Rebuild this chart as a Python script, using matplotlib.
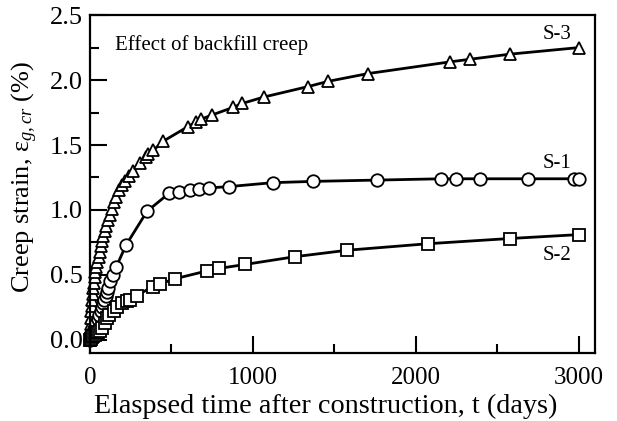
import numpy as np
import matplotlib
matplotlib.use("Agg")
from matplotlib import pyplot as plt
from matplotlib.ticker import MultipleLocator, FormatStrFormatter

plt.rcParams['font.family'] = ['Liberation Serif', 'DejaVu Serif']
plt.rcParams['mathtext.fontset'] = 'custom'
plt.rcParams['mathtext.rm'] = 'Liberation Serif'
plt.rcParams['mathtext.it'] = 'Liberation Serif:italic'

# S-3 (triangles)
t_s3 = [0, 1, 2, 3, 5, 7, 9, 12, 15, 19, 23, 28, 33, 39, 45, 52, 59, 66, 74, 82,
        91, 100, 110, 120, 132, 145, 160, 176, 196, 214, 241, 265, 307, 343, 358,
        389, 450, 599, 653, 684, 746, 879, 934, 1069, 1339, 1461, 1706, 2209, 2331,
        2581, 3000]
e_s3 = [0.0, 0.04, 0.08, 0.12, 0.17, 0.22, 0.26, 0.31, 0.35, 0.40, 0.44, 0.48, 0.52,
        0.56, 0.60, 0.64, 0.68, 0.72, 0.76, 0.80, 0.84, 0.88, 0.92, 0.96, 1.01, 1.06,
        1.10, 1.15, 1.19, 1.22, 1.26, 1.30, 1.36, 1.41, 1.43, 1.46, 1.53, 1.64, 1.68,
        1.70, 1.73, 1.79, 1.82, 1.87, 1.95, 1.99, 2.05, 2.14, 2.16, 2.20, 2.25]

# S-1 (circles)
t_s1 = [0, 5, 10, 16, 22, 30, 38, 46, 55, 64, 72, 80, 88, 96, 104, 112, 123, 140,
        160, 221, 350, 487, 548, 613, 671, 733, 855, 1121, 1370, 1763, 2157, 2245,
        2397, 2691, 2975, 3000]
e_s1 = [0.0, 0.02, 0.04, 0.06, 0.08, 0.10, 0.13, 0.16, 0.19, 0.22, 0.25, 0.28, 0.31,
        0.34, 0.37, 0.40, 0.45, 0.50, 0.56, 0.73, 0.99, 1.13, 1.14, 1.15, 1.16, 1.17,
        1.18, 1.21, 1.22, 1.23, 1.24, 1.24, 1.24, 1.24, 1.24, 1.24]

# S-2 (squares)
t_s2 = [0, 5, 12, 20, 30, 40, 50, 60, 74, 94, 102, 115, 145, 163, 196, 225, 245,
        286, 385, 429, 521, 716, 793, 951, 1258, 1581, 2076, 2577, 3000]
e_s2 = [0.0, 0.01, 0.02, 0.03, 0.04, 0.05, 0.06, 0.07, 0.09, 0.13, 0.17, 0.19, 0.22,
        0.25, 0.28, 0.30, 0.31, 0.34, 0.41, 0.43, 0.47, 0.53, 0.55, 0.58, 0.64, 0.69,
        0.74, 0.78, 0.81]

fig = plt.figure(figsize=(6.17, 4.21), dpi=100)
ax = fig.add_axes([0.146, 0.162, 0.818, 0.802])

style = dict(color='black', lw=2.0, mfc='white', mec='black', mew=1.3, clip_on=False)
ax.plot(t_s3, e_s3, marker='^', ms=8, **style)
ax.plot(t_s1, e_s1, marker='o', ms=9, **style)
ax.plot(t_s2, e_s2, marker='s', ms=8, **style)

ax.text(0.05, 0.91, 'Effect of backfill creep', transform=ax.transAxes,
        fontsize=15, va='center', ha='left')
ax.text(2870, 2.35, 'S-3', fontsize=15, ha='center', va='center')
ax.text(2870, 1.36, 'S-1', fontsize=15, ha='center', va='center')
ax.text(2870, 0.65, 'S-2', fontsize=15, ha='center', va='center')

ax.set_xlim(0, 3100)
ax.set_ylim(-0.1, 2.5)
ax.xaxis.set_major_locator(MultipleLocator(1000))
ax.xaxis.set_minor_locator(MultipleLocator(500))
ax.yaxis.set_major_locator(MultipleLocator(0.5))
ax.yaxis.set_minor_locator(MultipleLocator(0.25))
ax.yaxis.set_major_formatter(FormatStrFormatter('%.1f'))

ax.tick_params(which='both', direction='in', top=False, right=False, width=1.5,
               labelsize=18)
ax.tick_params(which='major', length=12)
ax.tick_params(which='minor', length=6.5)
ax.tick_params(axis='x', which='major', pad=10)
ax.tick_params(axis='y', which='major', pad=5, labelsize=19)
for s in ax.spines.values():
    s.set_linewidth(1.6)

ax.set_xlabel('Elaspsed time after construction, t (days)', fontsize=20.3)
ax.xaxis.set_label_coords(0.467, -0.122)
ax.set_ylabel('Creep strain, ε$_{g,cr}$ (%)', fontsize=19)
ax.yaxis.set_label_coords(-0.1, 0.52)

fig.savefig('out.png', dpi=100)
